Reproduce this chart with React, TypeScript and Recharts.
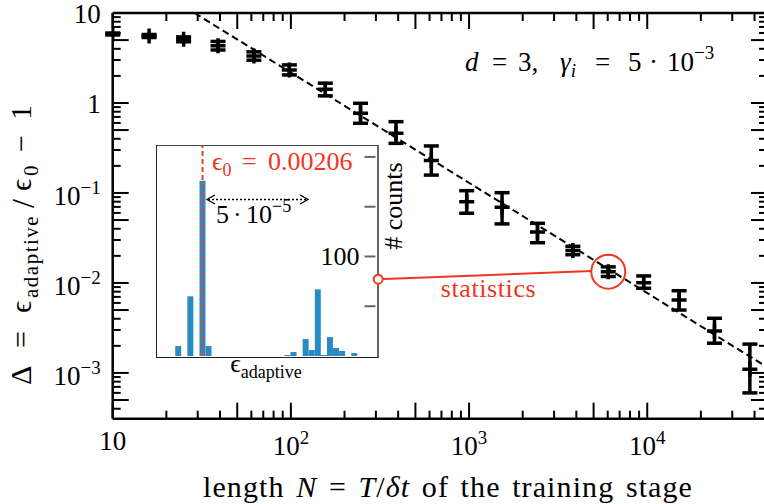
import React from "react";
import {
  ComposedChart,
  Scatter,
  Line,
  XAxis,
  YAxis,
  ErrorBar,
  ReferenceDot,
  ReferenceLine,
  BarChart,
  Bar,
} from "recharts";

const FONT = '"Liberation Serif", "Times New Roman", Times, "DejaVu Serif", serif';
const TXT = { fontFamily: FONT };
const RED = "#f23421";
const RED_DASH = "#e0432e";
const BLUE = "#2a8bc4";

// ---------------- main series ----------------
const trainingLength = [10, 16, 25, 39, 62, 98, 156, 246, 389, 614, 970, 1532, 2421, 3825, 6044, 9550, 15089, 23841, 37668];
const deltaMean = [5.84, 5.55, 5.1, 4.33, 3.33, 2.33, 1.42, 0.768, 0.46, 0.229, 0.08, 0.0693, 0.0369, 0.0229, 0.01336, 0.01007, 0.00648, 0.00293, 0.0011];
const deltaLow = [5.7, 5.34, 4.79, 3.88, 2.99, 2.05, 1.2, 0.595, 0.356, 0.158, 0.0595, 0.0453, 0.028, 0.0206, 0.0118, 0.00873, 0.005, 0.00214, 0.0006];
const deltaHigh = [5.99, 5.77, 5.43, 4.83, 3.7, 2.65, 1.66, 0.992, 0.62, 0.333, 0.106, 0.1007, 0.046, 0.0255, 0.0151, 0.01197, 0.0082, 0.00405, 0.00209];

// power-law guide line
const fitN = [28.8, 47000];
const fitDelta = [10, 0.00116];

// annotation "statistics"
const statFromN = 309;
const statFromDelta = 0.011;
const statToN = 4850;
const statToDelta = 0.01355;
const statPointIndex = 14;

// ---------------- inset histogram ----------------
const histCounts = [0, 0, 0, 10, 0, 60, 0, 176, 10, 0, 0, 0, 0, 0, 0, 0, 0, 0, 0, 0, 0, 1, 4, 0, 17, 6, 67, 1, 19, 8, 5, 0, 3, 0, 0, 0];
const histPeakBin = 7;
const histTicks = [50, 100, 150, 200];
const histLabelledTick = 100;

// ---------------- axes ----------------
const X_DOMAIN = [10, 47000];
const Y_DOMAIN = [3.1e-4, 10];
const xMajorTicks = [10, 100, 1000, 10000];
const xMajorExp = ["", "2", "3", "4"];
const yMajorTicks = [10, 1, 0.1, 0.01, 0.001];
const yMajorBase = ["10", "1", "10", "10", "10"];
const yMajorExp = ["", "", "\u22121", "\u22122", "\u22123"];

function logTicks(min: number, max: number): number[] {
  const out: number[] = [];
  const k0 = Math.floor(Math.log10(min));
  const k1 = Math.ceil(Math.log10(max));
  for (let k = k0; k <= k1; k++) {
    for (let m = 1; m <= 9; m++) {
      const v = Number((m * Math.pow(10, k)).toPrecision(8));
      if (v >= min * 0.99999 && v <= max * 1.00001) out.push(v);
    }
  }
  return out;
}
const xTicks = logTicks(X_DOMAIN[0], X_DOMAIN[1]);
const yTicks = logTicks(Y_DOMAIN[0], Y_DOMAIN[1]);

function isLong(v: number) {
  const e = Math.floor(Math.log10(v) + 1e-9);
  const m = Math.round(v / Math.pow(10, e));
  return m === 1 || m === 5;
}
const LONG = 16;
const SHORT = 8;
const TICK_W = 2;

function findIdx(arr: number[], v: number) {
  return arr.findIndex((t) => Math.abs(t / v - 1) < 1e-6);
}

const BottomTick = (p: any) => {
  const { x, y, payload } = p;
  const v = payload.value;
  const len = isLong(v) ? LONG : SHORT;
  const i = findIdx(xMajorTicks, v);
  const hasExp = i >= 0 && !!xMajorExp[i];
  return (
    <g>
      <line x1={x} x2={x} y1={y} y2={y - len} stroke="#000" strokeWidth={TICK_W} />
      {i >= 0 && (
        <text x={x} y={y + (hasExp ? 36 : 31)} textAnchor="middle" style={TXT} fontSize={27} fill="#000">
          10
          {hasExp ? (
            <tspan dy={-11} fontSize={19}>
              {xMajorExp[i]}
            </tspan>
          ) : null}
        </text>
      )}
    </g>
  );
};

const TopTick = (p: any) => {
  const { x, y, payload } = p;
  const len = isLong(payload.value) ? LONG : SHORT;
  return <line x1={x} x2={x} y1={y} y2={y + len} stroke="#000" strokeWidth={TICK_W} />;
};

const LeftTick = (p: any) => {
  const { x, y, payload } = p;
  const v = payload.value;
  const len = isLong(v) ? LONG : SHORT;
  const i = findIdx(yMajorTicks, v);
  const hasExp = i >= 0 && !!yMajorExp[i];
  return (
    <g>
      <line x1={x} x2={x + len} y1={y} y2={y} stroke="#000" strokeWidth={TICK_W} />
      {i >= 0 && (
        <text x={x - 12} y={y + (hasExp ? 12 : 10)} textAnchor="end" style={TXT} fontSize={27} fill="#000">
          {yMajorBase[i]}
          {hasExp ? (
            <tspan dy={-11} fontSize={19}>
              {yMajorExp[i]}
            </tspan>
          ) : null}
        </text>
      )}
    </g>
  );
};

const RightTick = (p: any) => {
  const { x, y, payload } = p;
  const len = isLong(payload.value) ? LONG : SHORT;
  return <line x1={x} x2={x - len} y1={y} y2={y} stroke="#000" strokeWidth={TICK_W} />;
};

const PlusMarker = (props: any) => {
  const { cx, cy } = props;
  if (cx == null || cy == null) return null;
  return (
    <g>
      <line x1={cx - 7.5} x2={cx + 7.5} y1={cy} y2={cy} stroke="#000" strokeWidth={3.5} />
      <line x1={cx} x2={cx} y1={cy - 7.5} y2={cy + 7.5} stroke="#000" strokeWidth={3.5} />
    </g>
  );
};

const InsetTick = (p: any) => {
  const { x, y, payload } = p;
  return (
    <g>
      <line x1={x - 11} x2={x} y1={y} y2={y} stroke="#666" strokeWidth={2} />
      {payload.value === histLabelledTick && (
        <text x={x - 16} y={y + 9} textAnchor="end" style={TXT} fontSize={26} fill="#000">
          {String(payload.value)}
        </text>
      )}
    </g>
  );
};

const mainData = trainingLength.map((n, i) => ({
  N: n,
  d: deltaMean[i],
  err: [deltaMean[i] - deltaLow[i], deltaHigh[i] - deltaMean[i]],
}));
const fitData = fitN.map((n, i) => ({ N: n, d: fitDelta[i] }));
const histData = histCounts.map((c, i) => ({ bin: i, count: c }));

const W = 770;
const H = 504;
const PLOT_LEFT = 112.7;
const PLOT_TOP = 13;
const PLOT_RIGHT = 767;
const PLOT_BOTTOM = 418.7;
const AX = 1; // axis band thickness

export default function App() {
  return (
    <div style={{ position: "absolute", left: 0, top: 0, width: 764, height: 504, overflow: "hidden", background: "#fff", fontFamily: FONT }}>
      {/* inset histogram */}
      <div
        style={{
          position: "absolute",
          left: 156,
          top: 144.5,
          width: 223,
          height: 213,
          boxSizing: "border-box",
          borderTop: "1.5px solid #444",
          borderLeft: "1.5px solid #222",
          borderBottom: "1.5px solid #222",
          borderRight: "2px solid #666",
          background: "#fff",
        }}
      >
        <BarChart width={219.5} height={210} data={histData} margin={{ top: 0, right: 0, bottom: 0, left: 0 }} barCategoryGap={0} barGap={0}>
          <XAxis dataKey="bin" hide />
          <YAxis
            orientation="right"
            domain={[0, 211]}
            ticks={histTicks}
            tick={InsetTick}
            tickSize={0}
            tickMargin={0}
            tickLine={false}
            axisLine={false}
            width={1}
            allowDataOverflow
            interval={0}
          />
          <Bar dataKey="count" fill={BLUE} isAnimationActive={false} />
          <ReferenceLine x={histPeakBin} stroke={RED_DASH} strokeWidth={2} strokeDasharray="5 3" />
        </BarChart>
      </div>

      {/* main chart */}
      <div style={{ position: "absolute", left: 0, top: 0 }}>
        <ComposedChart
          width={W}
          height={H}
          margin={{ top: PLOT_TOP - AX, right: W - PLOT_RIGHT - AX, bottom: H - PLOT_BOTTOM - AX, left: PLOT_LEFT - AX }}
        >
          <XAxis
            dataKey="N"
            type="number"
            scale="log"
            domain={X_DOMAIN}
            allowDataOverflow
            ticks={xTicks}
            interval={0}
            tick={BottomTick}
            tickSize={0}
            tickMargin={0}
            tickLine={false}
            axisLine={{ stroke: "#000", strokeWidth: 2.5 }}
            height={AX}
          />
          <XAxis
            xAxisId="top"
            orientation="top"
            dataKey="N"
            type="number"
            scale="log"
            domain={X_DOMAIN}
            allowDataOverflow
            ticks={xTicks}
            interval={0}
            tick={TopTick}
            tickSize={0}
            tickMargin={0}
            tickLine={false}
            axisLine={{ stroke: "#000", strokeWidth: 2.5 }}
            height={AX}
          />
          <YAxis
            type="number"
            scale="log"
            domain={Y_DOMAIN}
            allowDataOverflow
            ticks={yTicks}
            interval={0}
            tick={LeftTick}
            tickSize={0}
            tickMargin={0}
            tickLine={false}
            axisLine={{ stroke: "#000", strokeWidth: 2.5 }}
            width={AX}
          />
          <YAxis
            yAxisId="right"
            orientation="right"
            type="number"
            scale="log"
            domain={Y_DOMAIN}
            allowDataOverflow
            ticks={yTicks}
            interval={0}
            tick={RightTick}
            tickSize={0}
            tickMargin={0}
            tickLine={false}
            axisLine={{ stroke: "#000", strokeWidth: 2.5 }}
            width={AX}
          />
          <Line
            data={fitData}
            dataKey="d"
            xAxisId="top"
            yAxisId="right"
            stroke="none"
            dot={false}
            activeDot={false}
            isAnimationActive={false}
          />
          <Line
            data={fitData}
            dataKey="d"
            type="linear"
            stroke="#000"
            strokeWidth={2}
            strokeDasharray="7 4"
            dot={false}
            activeDot={false}
            isAnimationActive={false}
          />
          <Scatter data={mainData} dataKey="d" shape={PlusMarker} isAnimationActive={false}>
            <ErrorBar dataKey="err" direction="y" width={7.5} stroke="#000" strokeWidth={3.5} />
          </Scatter>
          <ReferenceLine
            segment={[
              { x: statFromN, y: statFromDelta },
              { x: statToN, y: statToDelta },
            ]}
            stroke={RED}
            strokeWidth={2}
          />
          <ReferenceDot
            x={trainingLength[statPointIndex]}
            y={deltaMean[statPointIndex]}
            r={17}
            fill="none"
            fillOpacity={0}
            stroke={RED}
            strokeWidth={2}
          />
          <ReferenceDot x={statFromN} y={statFromDelta} r={4.5} fill="#fff" stroke={RED} strokeWidth={2} />
        </ComposedChart>
      </div>

      {/* text annotations */}
      <svg width={764} height={504} style={{ position: "absolute", left: 0, top: 0, pointerEvents: "none" }}>
        {/* y title (laid out along the rotated baseline) */}
        <text transform="translate(31,388) rotate(-90)" style={TXT} fontSize={30} fill="#000">
          <tspan x={3}>{"\u0394"}</tspan>
          <tspan x={40}>=</tspan>
          <tspan x={75}>{"\u03f5"}</tspan>
          <tspan x={90} dy={7} fontSize={21} letterSpacing={1.5}>
            adaptive
          </tspan>
          <tspan x={180} dy={-4} fontSize={32}>
            /
          </tspan>
          <tspan x={197} dy={-3}>{"\u03f5"}</tspan>
          <tspan x={212} dy={7} fontSize={21}>
            0
          </tspan>
          <tspan x={236} dy={-7}>
            {"\u2212"}
          </tspan>
          <tspan x={268}>1</tspan>
        </text>

        {/* x title */}
        <text x={448} y={497} textAnchor="middle" style={TXT} fontSize={30} fill="#000" letterSpacing={1.1} wordSpacing={3}>
          {"length "}
          <tspan fontStyle="italic">N</tspan>
          {" = "}
          <tspan fontStyle="italic">T</tspan>
          {"/"}
          <tspan fontStyle="italic">{"\u03b4t"}</tspan>
          {" of the training stage"}
        </text>

        {/* parameters */}
        <text y={71} style={TXT} fontSize={27} fill="#000">
          <tspan x={465} fontStyle="italic">d</tspan>
          <tspan x={492}>=</tspan>
          <tspan x={518}>3,</tspan>
          <tspan x={560} fontStyle="italic">{"\u03b3"}</tspan>
          <tspan fontStyle="italic" fontSize={19} dy={6}>i</tspan>
          <tspan x={595} dy={-6}>=</tspan>
          <tspan x={628}>5</tspan>
          <tspan x={649}>{"\u00b7"}</tspan>
          <tspan x={667}>10</tspan>
          <tspan dy={-12} fontSize={19}>{"\u22123"}</tspan>
        </text>

        {/* statistics */}
        <text x={488.5} y={297} textAnchor="middle" style={TXT} fontSize={26} fill={RED} letterSpacing={0.6}>
          statistics
        </text>

        {/* # counts */}
        <text transform="translate(402,206) rotate(-90)" textAnchor="middle" style={TXT} fontSize={26} fill="#000">
          {"#  counts"}
        </text>

        {/* epsilon_0 label */}
        <text y={170} style={TXT} fontSize={26} fill={RED}>
          <tspan x={212}>{"\u03f5"}</tspan>
          <tspan dy={6} fontSize={18}>0</tspan>
          <tspan x={242} dy={-6}>=</tspan>
          <tspan x={268}>0.00206</tspan>
        </text>

        {/* spacing arrow */}
        <line x1={208} x2={307} y1={199.5} y2={199.5} stroke="#000" strokeWidth={1.5} strokeDasharray="2 2" />
        <polyline points="215,195 207,199.5 215,204" fill="none" stroke="#000" strokeWidth={1.3} />
        <polyline points="300,195 308,199.5 300,204" fill="none" stroke="#000" strokeWidth={1.3} />
        <text y={223} style={TXT} fontSize={26} fill="#000">
          <tspan x={216}>5</tspan>
          <tspan x={233}>{"\u00b7"}</tspan>
          <tspan x={246}>10</tspan>
          <tspan dy={-11} fontSize={18}>{"\u22125"}</tspan>
        </text>

        {/* inset x label */}
        <text x={266} y={372} textAnchor="middle" style={TXT} fontSize={26} fill="#000">
          {"\u03f5"}
          <tspan dy={6} fontSize={18}>
            adaptive
          </tspan>
        </text>
      </svg>
    </div>
  );
}
